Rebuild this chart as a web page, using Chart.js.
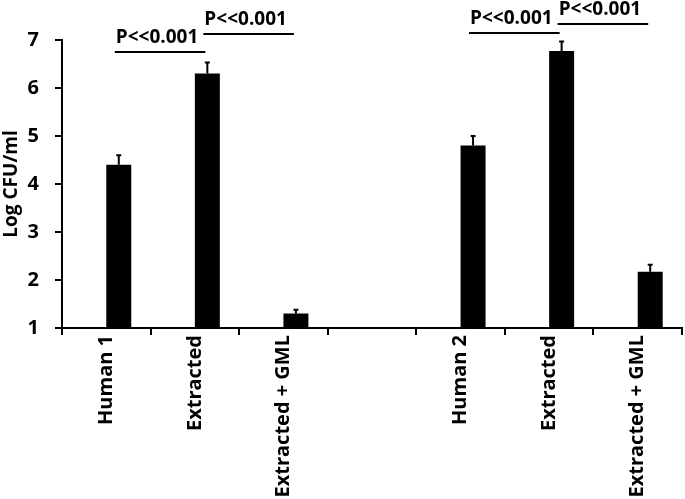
<!DOCTYPE html>
<html>
<head>
<meta charset="utf-8">
<script src="https://cdn.jsdelivr.net/npm/chart.js@4/dist/chart.umd.min.js"></script>
<style>
  html, body { margin: 0; padding: 0; background: #fff; }
  #c { display: block; }
</style>
</head>
<body>
<canvas id="c" width="685" height="499"></canvas>
<script>
// ---- data ----
const categories = ['Human 1', 'Extracted', 'Extracted + GML', '', 'Human 2', 'Extracted', 'Extracted + GML'];
const emptySeries = [null, null, null, null, null, null, null];
const cfuValues = [4.4, 6.3, 1.3, null, 4.8, 6.77, 2.17];
const cfuErrors = [0.2, 0.23, 0.08, null, 0.2, 0.2, 0.15];
const yTickValues = [1, 2, 3, 4, 5, 6, 7];
const yTitle = 'Log CFU/ml';
// significance brackets: from category index, to category index, height (axis units), label
const bracketFrom = [0, 1, 4, 5];
const bracketTo = [1, 2, 5, 6];
const bracketLevel = [6.75, 7.13, 7.15, 7.33];
const bracketLabel = ['P<<0.001', 'P<<0.001', 'P<<0.001', 'P<<0.001'];

const FONT = '"Open Sans"';
const FSIZE = 20;

const errorBarPlugin = {
  id: 'errorBars',
  afterDatasetsDraw(chart) {
    const ctx = chart.ctx;
    const meta = chart.getDatasetMeta(1);
    const yScale = chart.scales.y;
    ctx.save();
    ctx.strokeStyle = '#000';
    ctx.lineWidth = 2;
    meta.data.forEach((bar, i) => {
      const v = cfuValues[i], e = cfuErrors[i];
      if (v == null || e == null) return;
      const yTop = yScale.getPixelForValue(v + e);
      const yBar = yScale.getPixelForValue(v);
      ctx.beginPath();
      ctx.moveTo(bar.x, yBar);
      ctx.lineTo(bar.x, yTop);
      ctx.moveTo(bar.x - 2.5, yTop);
      ctx.lineTo(bar.x + 2.5, yTop);
      ctx.stroke();
    });
    ctx.restore();
  }
};

const bracketPlugin = {
  id: 'brackets',
  afterDraw(chart) {
    const ctx = chart.ctx;
    const meta = chart.getDatasetMeta(1);
    const yScale = chart.scales.y;
    ctx.save();
    ctx.strokeStyle = '#000';
    ctx.fillStyle = '#000';
    ctx.lineWidth = 2;
    ctx.font = 'bold 19px ' + FONT;
    ctx.textAlign = 'center';
    ctx.textBaseline = 'alphabetic';
    bracketFrom.forEach((f, k) => {
      const x1 = meta.data[f].x - 4;
      const x2 = meta.data[bracketTo[k]].x - 2;
      const y = Math.round(yScale.getPixelForValue(bracketLevel[k]));
      ctx.beginPath();
      ctx.moveTo(x1, y);
      ctx.lineTo(x2, y);
      ctx.stroke();
      ctx.fillText(bracketLabel[k], (x1 + x2) / 2 - 3, y - 9);
    });
    ctx.restore();
  }
};

new Chart(document.getElementById('c'), {
  type: 'bar',
  data: {
    labels: categories,
    datasets: [
      { label: 'blank', data: emptySeries, backgroundColor: '#000' },
      { label: 'Log CFU/ml', data: cfuValues, backgroundColor: '#000', borderWidth: 0 }
    ]
  },
  options: {
    responsive: false,
    devicePixelRatio: 1,
    animation: false,
    categoryPercentage: 0.564,
    barPercentage: 1.0,
    layout: { padding: { top: 40, right: 3, left: 0, bottom: 0 } },
    plugins: {
      legend: { display: false },
      tooltip: { enabled: false }
    },
    scales: {
      x: {
        offset: true,
        grid: { offset: true, drawOnChartArea: false, color: '#000', lineWidth: 2, tickLength: 7 },
        border: { color: '#000', width: 2 },
        ticks: {
          autoSkip: false, maxRotation: 90, minRotation: 90, padding: 0,
          color: '#000', font: { family: FONT, weight: 'bold', size: FSIZE }
        },
        afterFit(scale) { scale.height = 171; }
      },
      y: {
        min: 1, max: 7,
        afterBuildTicks(scale) { scale.ticks = yTickValues.map(v => ({ value: v })); },
        grid: { drawOnChartArea: false, color: '#000', lineWidth: 2, tickLength: 7 },
        border: { color: '#000', width: 2 },
        ticks: {
          padding: 16, color: '#000',
          font: { family: FONT, weight: 'bold', size: FSIZE }
        },
        title: {
          display: true, text: yTitle, color: '#000', padding: 0,
          font: { family: FONT, weight: 'bold', size: 19 }
        },
        afterFit(scale) { scale.width = 62; }
      }
    }
  },
  plugins: [errorBarPlugin, bracketPlugin]
});
</script>
</body>
</html>
